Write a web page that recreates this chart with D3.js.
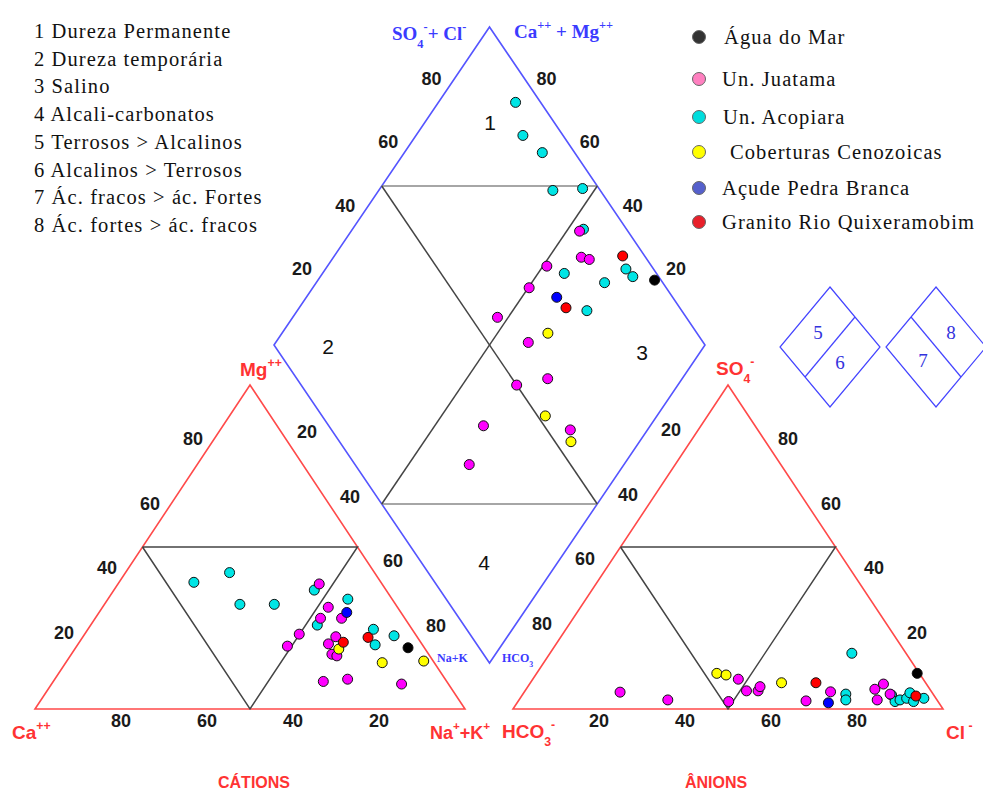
<!DOCTYPE html>
<html lang="pt">
<head>
<meta charset="UTF-8">
<title>Diagrama de Piper</title>
<script src="https://cdn.jsdelivr.net/npm/d3@7"></script>
<style>
  body { margin: 0; background: #fff; }
  svg text { font-family: "Liberation Sans", Arial, sans-serif; }
  .tick { font-weight: bold; font-size: 18px; fill: #1a1a1a; }
  .serif { font-family: "Liberation Serif", "Times New Roman", serif; }
  .leg { font-size: 20.5px; letter-spacing: 1.1px; fill: #111; }
</style>
</head>
<body>
<svg id="chart" width="983" height="792"></svg>
<script>
// grupos de amostras (0 preto, 1 Juatama, 2 Acopiara, 3 Coberturas, 4 Açude, 5 Granito)
var grupos = ["Água do Mar", "Un. Juatama", "Un. Acopiara", "Coberturas Cenozoicas", "Açude Pedra Branca", "Granito Rio Quixeramobim"];
var coresPonto = ["#000000", "#ff00ff", "#00e5e5", "#ffff00", "#0000ff", "#ff0000"];
var coresLegenda = ["#333333", "#ff80c0", "#00dddd", "#ffff00", "#5560cc", "#e8202a"];
var ordem = [2, 1, 3, 4, 5, 0];

// cátions: [grupo, Mg%, Na+K%]
var cations = [
  [2,36.7,46.6],[2,33.9,55.8],[2,25.9,52.7],[2,24.6,66.4],[2,22.6,72.2],[2,19.8,69.2],
  [2,39.1,17.4],[2,42.1,24.2],[2,32.3,31.5],[2,32.3,39.5],
  [1,38.6,46.8],[1,31.4,52.5],[1,28.0,52.4],[1,28.0,57.3],[1,23.1,49.9],[1,19.4,49.0],
  [1,22.3,58.8],[1,20.1,58.2],[1,16.9,60.6],[1,16.4,62.0],[1,8.5,62.8],[1,9.2,68.1],[1,7.7,81.4],
  [3,18.5,61.4],[3,14.3,73.6],[3,14.8,83.0],
  [4,29.8,57.6],
  [5,20.6,61.4],[5,22.1,66.4],
  [0,18.9,77.3]
];

// ânions: [grupo, SO4%, Cl%]
var anions = [
  [2,17.2,70.2],[2,4.6,75.1],[2,2.8,76.0],[2,4.3,85.9],[2,2.3,87.7],[2,2.8,88.6],
  [2,3.3,89.9],[2,5.0,89.8],[2,2.3,92.0],[2,3.3,93.9],
  [1,2.5,66.9],[1,5.3,71.2],[1,6.1,81.1],[1,7.7,82.3],[1,2.8,83.3],[1,4.6,85.4],
  [1,5.2,22.3],[1,2.8,34.6],[1,2.3,49.0],[1,9.2,47.8],[1,5.6,51.5],[1,5.6,54.2],[1,6.9,54.0],
  [3,11.0,41.9],[3,10.5,44.3],[3,8.1,58.4],
  [4,1.9,72.4],
  [5,8.1,66.4],[5,4.0,91.7],
  [0,11.0,88.5]
];

// losango: [grupo, Na+K%, SO4+Cl%]
var losango = [
  [2,17.9,94.2],[2,24.8,90.7],[2,32.0,92.5],[2,40.4,89.0],[2,47.0,96.2],[2,53.6,90.0],
  [2,56.1,78.6],[2,66.9,86.5],[2,69.7,93.6],[2,72.5,94.0],[2,67.2,78.0],
  [1,53.0,88.8],[1,57.5,85.1],[1,59.7,86.6],[1,50.9,75.7],[1,50.2,68.2],[1,47.5,56.2],
  [1,58.6,59.4],[1,62.6,50.0],[1,68.8,58.2],[1,61.3,35.9],[1,64.1,26.5],[1,82.1,55.4],
  [3,61.7,65.4],[3,74.1,51.8],[3,84.1,53.7],
  [4,58.1,73.1],
  [5,66.9,94.9],[5,61.9,73.6],
  [0,78.1,98.5]
];

var ticks = [20, 40, 60, 80];
var zonas = ["1 Dureza Permanente", "2 Dureza temporária", "3 Salino", "4 Alcali-carbonatos",
  "5 Terrosos > Alcalinos", "6 Alcalinos > Terrosos", "7 Ác. fracos > ác. Fortes", "8 Ác. fortes > ác. fracos"];

var svg = d3.select("#chart");

// geometria
var baseY = 709, triW = 430, triH = 324;
var catX0 = 35, anX0 = 513;
var dLeft = [274, 345], dHalfW = 215.5, dHalfH = 318;

var sw = d3.scaleLinear().domain([0, 100]).range([0, triW]);
var sh = d3.scaleLinear().domain([0, 100]).range([0, triH]);
var dx = d3.scaleLinear().domain([0, 100]).range([0, dHalfW]);
var dy = d3.scaleLinear().domain([0, 100]).range([0, dHalfH]);

// top = % do vértice superior, right = % do vértice direito
function tri(x0, top, right) {
  return [x0 + sw(right) + sw(top) / 2, baseY - sh(top)];
}
function los(n, s) {
  return [dLeft[0] + dx(n) + dx(s), dLeft[1] + dy(n) - dy(s)];
}
var line = d3.line();

// triângulos
[catX0, anX0].forEach(function(x0) {
  svg.append("path")
    .attr("d", line([tri(x0,0,0), tri(x0,0,100), tri(x0,100,0)]) + "Z")
    .attr("fill", "none").attr("stroke", "#ff4a4a").attr("stroke-width", 1.6);
  svg.append("path")
    .attr("d", line([tri(x0,50,0), tri(x0,50,50), tri(x0,0,50), tri(x0,50,0)]))
    .attr("fill", "none").attr("stroke", "#444").attr("stroke-width", 1.5);
});

// losango
svg.append("path")
  .attr("d", line([los(0,0), los(0,100), los(100,100), los(100,0)]) + "Z")
  .attr("fill", "none").attr("stroke", "#5555ff").attr("stroke-width", 1.6);
svg.append("path").attr("d", line([los(0,50), los(50,100)]))
  .attr("stroke", "#888").attr("stroke-width", 1.5);
svg.append("path").attr("d", line([los(50,0), los(100,50)]))
  .attr("stroke", "#888").attr("stroke-width", 1.5);
svg.append("path").attr("d", line([los(0,50), los(100,50)]))
  .attr("stroke", "#444").attr("stroke-width", 1.5);
svg.append("path").attr("d", line([los(50,0), los(50,100)]))
  .attr("stroke", "#444").attr("stroke-width", 1.5);

// rótulos das escalas
function rotulos(pos, off) {
  svg.append("g").selectAll("text").data(ticks).enter().append("text")
    .attr("class", "tick")
    .attr("text-anchor", "middle").attr("dominant-baseline", "central")
    .attr("x", function(v) { return pos(v)[0] + off[0]; })
    .attr("y", function(v) { return pos(v)[1] + off[1]; })
    .text(function(v) { return v; });
}
rotulos(function(v) { return tri(catX0, 0, 100 - v); }, [0, 12]);
rotulos(function(v) { return tri(catX0, v, 0); }, [-14, -11]);
rotulos(function(v) { return tri(catX0, 100 - v, v); }, [14, -18]);
rotulos(function(v) { return tri(anX0, 0, v); }, [0, 12]);
rotulos(function(v) { return tri(anX0, v, 100 - v); }, [17, -11]);
rotulos(function(v) { return tri(anX0, 100 - v, 0); }, [-14, -20]);
rotulos(function(v) { return los(0, v); }, [-15, -12]);
rotulos(function(v) { return los(100 - v, 100); }, [14, -12]);

// pontos
function pontos(dados, f) {
  var ord = dados.slice().sort(function(a, b) { return ordem.indexOf(a[0]) - ordem.indexOf(b[0]); });
  svg.append("g").selectAll("circle").data(ord).enter().append("circle")
    .attr("cx", function(d) { return f(d)[0]; })
    .attr("cy", function(d) { return f(d)[1]; })
    .attr("r", 5)
    .attr("fill", function(d) { return coresPonto[d[0]]; })
    .attr("stroke", "#111").attr("stroke-width", 1);
}
pontos(cations, function(d) { return tri(catX0, d[1], d[2]); });
pontos(anions, function(d) { return tri(anX0, d[1], d[2]); });
pontos(losango, function(d) { return los(d[1], d[2]); });

// números das zonas
[["1", 490, 130], ["2", 328, 354], ["3", 642, 360], ["4", 484, 570]].forEach(function(z) {
  svg.append("text").attr("x", z[1]).attr("y", z[2]).attr("text-anchor", "middle")
    .attr("font-size", 21).attr("fill", "#111").text(z[0]);
});

// rótulos dos vértices
function rotulo(x, y, partes, cor, tam, cls) {
  var t = svg.append("text").attr("x", x).attr("y", y).attr("fill", cor)
    .attr("font-weight", "bold").attr("font-size", tam);
  if (cls) t.attr("class", cls);
  var deslocado = 0;
  partes.forEach(function(p) {
    var alvo = p[1] === "sup" ? -tam * 0.5 : p[1] === "sub" ? tam * 0.4 : 0;
    var ts = t.append("tspan").attr("dy", alvo - deslocado)
      .attr("font-size", p[1] ? tam * 0.65 : tam).text(p[0]);
    if (p[2]) ts.attr("dx", p[2]);
    deslocado = alvo;
  });
}
var verm = "#ff3333";
rotulo(12, 739, [["Ca"], ["++", "sup"]], verm, 19);
rotulo(240, 376, [["Mg"], ["++", "sup"]], verm, 19);
rotulo(430, 739, [["Na"], ["+", "sup"], ["+K"], ["+", "sup"]], verm, 18);
rotulo(502, 738, [["HCO"], ["3", "sub"], ["-", "sup"]], verm, 19);
rotulo(946, 739, [["Cl"], [" -", "sup"]], verm, 19);
rotulo(716, 375, [["SO"], ["4", "sub"], ["-", "sup"]], verm, 19);

svg.append("text").attr("x", 254).attr("y", 788).attr("text-anchor", "middle")
  .attr("fill", verm).attr("font-weight", "bold").attr("font-size", 16).text("CÁTIONS");
svg.append("text").attr("x", 716).attr("y", 788).attr("text-anchor", "middle")
  .attr("fill", verm).attr("font-weight", "bold").attr("font-size", 16).text("ÂNIONS");

// rótulos azuis do losango
var azul = "#3b3bff";
rotulo(392, 40, [["SO"], ["4", "sub"], ["-", "sup"], ["+ Cl"], ["-", "sup"]], azul, 19, "serif");
rotulo(514, 38, [["Ca"], ["++", "sup"], [" +  Mg"], ["++", "sup"]], azul, 19, "serif");
svg.append("text").attr("class", "serif").attr("x", 437).attr("y", 662)
  .attr("fill", azul).attr("font-weight", "bold").attr("font-size", 12).text("Na+K");
rotulo(502, 662, [["HCO"], ["3", "sub"]], azul, 12, "serif");

// legenda das zonas
svg.append("g").selectAll("text").data(zonas).enter().append("text")
  .attr("class", "serif leg").attr("x", 34)
  .attr("y", function(d, i) { return 38 + i * 27.7; })
  .text(function(d) { return d; });

// legenda dos grupos
var legY = [37, 79, 117, 152, 188, 222];
var legX = [724, 722, 723, 730, 722, 722];
grupos.forEach(function(g, i) {
  svg.append("circle").attr("cx", 699).attr("cy", legY[i]).attr("r", 6.5)
    .attr("fill", coresLegenda[i]).attr("stroke", "#666").attr("stroke-width", 1);
  svg.append("text").attr("class", "serif leg").attr("x", legX[i]).attr("y", legY[i] + 7)
    .text(g);
});

// losangos pequenos 5-6 e 7-8
function losPeq(cx, cy, div, nums) {
  var w = 50, h = 60;
  var top = [cx, cy - h], l = [cx - w, cy], r = [cx + w, cy], b = [cx, cy + h];
  svg.append("path").attr("d", line([top, r, b, l]) + "Z")
    .attr("fill", "none").attr("stroke", "#4444ff").attr("stroke-width", 1.2);
  var a = div === 1 ? [(top[0]+r[0])/2, (top[1]+r[1])/2] : [(top[0]+l[0])/2, (top[1]+l[1])/2];
  var c = div === 1 ? [(b[0]+l[0])/2, (b[1]+l[1])/2] : [(b[0]+r[0])/2, (b[1]+r[1])/2];
  svg.append("path").attr("d", line([a, c]))
    .attr("stroke", "#4444ff").attr("stroke-width", 1.2);
  nums.forEach(function(n) {
    svg.append("text").attr("class", "serif").attr("x", n[1]).attr("y", n[2])
      .attr("text-anchor", "middle").attr("font-size", 19).attr("fill", "#3333dd").text(n[0]);
  });
}
losPeq(830, 347, 1, [["5", 818, 339], ["6", 840, 369]]);
losPeq(936, 347, 2, [["8", 951, 339], ["7", 923, 367]]);
</script>
</body>
</html>
